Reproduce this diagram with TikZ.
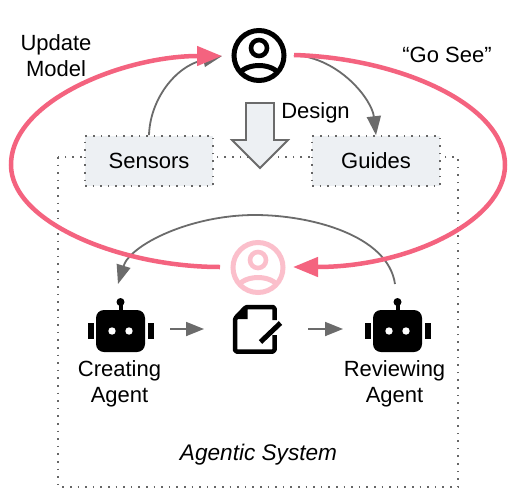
\documentclass[tikz,border=0pt]{standalone}
\usepackage{fontspec}
\setmainfont{Liberation Sans}
\usetikzlibrary{arrows.meta}
\definecolor{pinkc}{HTML}{F4637F}
\definecolor{palepink}{HTML}{FBBFCB}
\definecolor{greyc}{HTML}{6B6B6B}
\definecolor{boxfill}{HTML}{EDF0F3}
\definecolor{dotc}{HTML}{666666}
\tikzset{
  x=1pt,y=-1pt,
  label text/.style={font=\fontsize{22}{26}\selectfont,align=center,inner sep=0pt,text=black},
  dotted edge/.style={draw=dotc,line width=1.6pt,dash pattern=on 1.6pt off 6pt},
  tagbox/.style={rectangle,fill=boxfill,dotted edge,minimum width=128pt,minimum height=50pt,inner sep=0pt,font=\fontsize{22}{26}\selectfont},
  greyline/.style={draw=greyc,line width=1.8pt},
  greytip/.style={-{Triangle[length=19pt,width=14pt]}},
  pinkline/.style={draw=pinkc,line width=4.5pt,-{Triangle[length=25pt,width=19pt]}},
  smalltip/.style={-{Triangle[length=18pt,width=14pt]}},
}
\newcommand{\personicon}[2]{%
  \draw[#2,line width=5pt] (#1) circle (25);
  \draw[#2,line width=4.6pt] ([yshift=7.5pt]#1) circle (8);
  \begin{scope}
    \clip (#1) circle (25);
    \draw[#2,line width=5pt] ([yshift=-24pt]#1) ellipse (22 and 14);
  \end{scope}}
\newcommand{\roboticon}[1]{%
  \begin{scope}[shift={(#1,0)}]
    \fill[black,rounded corners=8pt] (96,310) rectangle (145,352);
    \fill[black] (118.5,304) rectangle (122.5,312);
    \fill[black] (120.5,302) circle (4);
    \fill[black] (88,323) rectangle (93.5,339);
    \fill[black] (148,323) rectangle (153.5,339);
    \fill[white] (112,331) circle (3.7);
    \fill[white] (129,331) circle (3.7);
  \end{scope}}
\begin{document}
\begin{tikzpicture}
\useasboundingbox (0,0) rectangle (519,501);
\fill[white] (0,0) rectangle (519,501);
\draw[dotted edge] (58,157) rectangle (458,487);
\node[tagbox] (sensors) at (149,161) {Sensors};
\node[tagbox] (guides) at (376,161) {Guides};
\coordinate (personL) at (222,56);
\coordinate (personR) at (294,55);
\coordinate (ghostL) at (220,267);
\coordinate (ghostR) at (293,267);
\coordinate (ghostTopL) at (118,284);
\coordinate (revTop) at (395,284);
\draw[greyline,greytip] (revTop) .. controls (388,235) and (310,215) .. (255,215) .. controls (190,215) and (130,245) .. (ghostTopL);
\draw[greyline,greytip] (sensors.north) .. controls (150,100) and (175,66) .. (personL);
\draw[greyline,greytip] (personR) .. controls (340,58) and (372,100) .. (guides.north);
\draw[fill=boxfill,draw=greyc,line width=1.8pt] (246,103) -- (274,103) -- (274,140) -- (288,140) -- (260,168) -- (232,140) -- (246,140) -- cycle;
\node[label text] (design) at (315.5,113) {Design};
\draw[pinkline] (personR) .. controls (400,58) and (505,105) .. (505,165) .. controls (505,220) and (410,267) .. (ghostR);
\draw[pinkline] (ghostL) .. controls (120,267) and (11,222) .. (11,165) .. controls (11,100) and (125,56) .. (personL);
\personicon{259,55.5}{black}
\personicon{258,267.5}{palepink}
\node[label text] (upd) at (56,55.5) {Update\\Model};
\node[label text] (gosee) at (447,55) {“Go See”};
\roboticon{0}
\roboticon{277}
\node[label text] (creating) at (119.5,384) {Creating\\Agent};
\node[label text] (reviewing) at (394.5,384) {Reviewing\\Agent};
\node[label text,font=\itshape\fontsize{22.6}{26}\selectfont] (agentic) at (258.5,455) {Agentic System};
\coordinate (a1) at (170,329); \coordinate (a2) at (204,329);
\coordinate (b1) at (308,329); \coordinate (b2) at (343,329);
\draw[greyline,smalltip] (a1) -- (a2);
\draw[greyline,smalltip] (b1) -- (b2);
% document icon
\fill[black] (233,319) -- (246,305) -- (247.5,305) -- (247.5,319) -- cycle;
\draw[black,line width=4.5pt,line join=round,rounded corners=1.5pt] (274.5,320) -- (274.5,307) -- (246,307) -- (235,318.5) -- (235,351.5) -- (274.5,351.5) -- (274.5,335);
\draw[black,line width=5pt] (260.5,342) -- (280.5,323);
\end{tikzpicture}
\end{document}
